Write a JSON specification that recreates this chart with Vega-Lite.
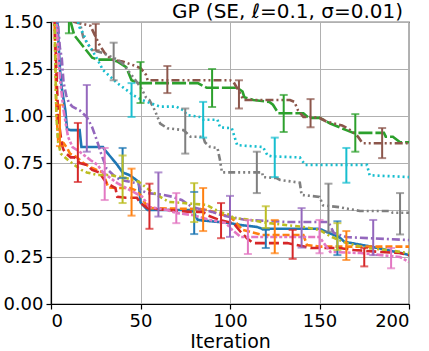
{
"$schema": "https://vega.github.io/schema/vega-lite/v6.json",
"width": 358, "height": 282,
"autosize": {"type": "none"},
"padding": {"left": 51, "top": 22, "right": 20, "bottom": 47},
"background": "white",
"config": {
 "font": "DejaVu Sans",
 "view": {"stroke": "#000", "strokeWidth": 1.2},
 "axis": {"grid": true, "gridColor": "#b0b0b0", "gridWidth": 1, "domainColor": "#000", "domainWidth": 1.2, "tickColor": "#000", "tickSize": 5, "tickWidth": 1.2, "labelColor": "#000", "labelFontSize": 18, "labelFont": "DejaVu Sans", "titleFont": "DejaVu Sans", "titleFontSize": 19, "titleFontWeight": "normal", "titleColor": "#000", "labelPadding": 3}
},
"title": {"text": "GP (SE, ℓ=0.1, σ=0.01)", "anchor": "end", "frame": "group", "fontSize": 20, "fontWeight": "normal", "font": "DejaVu Sans", "color": "#000", "offset": 4, "dy": 13, "dx": -6},
"datasets": {
"lines": [
{"method":"m1","iter":0,"value":2.5},{"method":"m1","iter":3,"value":1.6},{"method":"m1","iter":5,"value":1.25},{"method":"m1","iter":6,"value":1.15},{"method":"m1","iter":8,"value":1.03},{"method":"m1","iter":9,"value":0.93},{"method":"m1","iter":11,"value":0.925},{"method":"m1","iter":16,"value":0.925},{"method":"m1","iter":17,"value":0.835},{"method":"m1","iter":29,"value":0.835},{"method":"m1","iter":30,"value":0.82},{"method":"m1","iter":34,"value":0.775},{"method":"m1","iter":37,"value":0.74},{"method":"m1","iter":40,"value":0.7},{"method":"m1","iter":44,"value":0.685},{"method":"m1","iter":49,"value":0.65},{"method":"m1","iter":50,"value":0.54},{"method":"m1","iter":54,"value":0.5},{"method":"m1","iter":79,"value":0.5},{"method":"m1","iter":82,"value":0.447},{"method":"m1","iter":94,"value":0.436},{"method":"m1","iter":100,"value":0.43},{"method":"m1","iter":106,"value":0.42},{"method":"m1","iter":115,"value":0.41},{"method":"m1","iter":118,"value":0.4},{"method":"m1","iter":150,"value":0.4},{"method":"m1","iter":154,"value":0.383},{"method":"m1","iter":161,"value":0.356},{"method":"m1","iter":164,"value":0.33},{"method":"m1","iter":168,"value":0.324},{"method":"m1","iter":180,"value":0.303},{"method":"m1","iter":196,"value":0.27},{"method":"m1","iter":200,"value":0.26},
{"method":"m2","iter":0,"value":2.5},{"method":"m2","iter":2,"value":1.5},{"method":"m2","iter":3,"value":1.03},{"method":"m2","iter":4,"value":0.87},{"method":"m2","iter":7,"value":0.856},{"method":"m2","iter":9,"value":0.83},{"method":"m2","iter":10.6,"value":0.8},{"method":"m2","iter":14.5,"value":0.78},{"method":"m2","iter":18,"value":0.75},{"method":"m2","iter":23,"value":0.723},{"method":"m2","iter":29,"value":0.7},{"method":"m2","iter":32,"value":0.62},{"method":"m2","iter":37,"value":0.617},{"method":"m2","iter":44,"value":0.617},{"method":"m2","iter":47,"value":0.606},{"method":"m2","iter":50,"value":0.58},{"method":"m2","iter":52.5,"value":0.537},{"method":"m2","iter":55,"value":0.51},{"method":"m2","iter":83,"value":0.505},{"method":"m2","iter":87,"value":0.5},{"method":"m2","iter":100,"value":0.463},{"method":"m2","iter":102,"value":0.447},{"method":"m2","iter":107,"value":0.394},{"method":"m2","iter":118,"value":0.367},{"method":"m2","iter":141,"value":0.367},{"method":"m2","iter":143,"value":0.314},{"method":"m2","iter":150,"value":0.305},{"method":"m2","iter":200,"value":0.305},
{"method":"m3","iter":0,"value":2.5},{"method":"m3","iter":9,"value":1.7},{"method":"m3","iter":11,"value":1.5},{"method":"m3","iter":13,"value":1.43},{"method":"m3","iter":18,"value":1.37},{"method":"m3","iter":23,"value":1.31},{"method":"m3","iter":26,"value":1.3},{"method":"m3","iter":34,"value":1.3},{"method":"m3","iter":37,"value":1.29},{"method":"m3","iter":42,"value":1.26},{"method":"m3","iter":45,"value":1.19},{"method":"m3","iter":49,"value":1.175},{"method":"m3","iter":82,"value":1.175},{"method":"m3","iter":87,"value":1.15},{"method":"m3","iter":104,"value":1.15},{"method":"m3","iter":107,"value":1.13},{"method":"m3","iter":108,"value":1.1},{"method":"m3","iter":113,"value":1.085},{"method":"m3","iter":122,"value":1.075},{"method":"m3","iter":124,"value":1.06},{"method":"m3","iter":127,"value":1.015},{"method":"m3","iter":141,"value":1.015},{"method":"m3","iter":144,"value":0.99},{"method":"m3","iter":150,"value":0.99},{"method":"m3","iter":156,"value":0.96},{"method":"m3","iter":165,"value":0.925},{"method":"m3","iter":169,"value":0.91},{"method":"m3","iter":186,"value":0.91},{"method":"m3","iter":187,"value":0.89},{"method":"m3","iter":191,"value":0.89},{"method":"m3","iter":195,"value":0.86},{"method":"m3","iter":200,"value":0.86},
{"method":"m4","iter":0,"value":2.5},{"method":"m4","iter":2,"value":1.5},{"method":"m4","iter":4,"value":1.0},{"method":"m4","iter":6,"value":0.85},{"method":"m4","iter":7,"value":0.82},{"method":"m4","iter":8.5,"value":0.8},{"method":"m4","iter":11,"value":0.78},{"method":"m4","iter":13,"value":0.78},{"method":"m4","iter":16,"value":0.75},{"method":"m4","iter":20,"value":0.74},{"method":"m4","iter":23,"value":0.713},{"method":"m4","iter":27,"value":0.7},{"method":"m4","iter":31,"value":0.643},{"method":"m4","iter":36,"value":0.617},{"method":"m4","iter":37,"value":0.57},{"method":"m4","iter":42,"value":0.565},{"method":"m4","iter":48,"value":0.565},{"method":"m4","iter":50,"value":0.537},{"method":"m4","iter":54,"value":0.51},{"method":"m4","iter":65,"value":0.5},{"method":"m4","iter":78,"value":0.49},{"method":"m4","iter":85,"value":0.49},{"method":"m4","iter":87,"value":0.473},{"method":"m4","iter":94,"value":0.447},{"method":"m4","iter":102,"value":0.43},{"method":"m4","iter":106,"value":0.383},{"method":"m4","iter":109.5,"value":0.35},{"method":"m4","iter":113,"value":0.324},{"method":"m4","iter":132,"value":0.324},{"method":"m4","iter":145,"value":0.298},{"method":"m4","iter":161,"value":0.298},{"method":"m4","iter":169,"value":0.287},{"method":"m4","iter":184,"value":0.277},{"method":"m4","iter":195,"value":0.271},{"method":"m4","iter":200,"value":0.26},
{"method":"m5","iter":0,"value":2.5},{"method":"m5","iter":3,"value":1.6},{"method":"m5","iter":5,"value":1.36},{"method":"m5","iter":6,"value":1.31},{"method":"m5","iter":7,"value":1.18},{"method":"m5","iter":8.5,"value":1.11},{"method":"m5","iter":10,"value":1.07},{"method":"m5","iter":12,"value":1.05},{"method":"m5","iter":16,"value":1.03},{"method":"m5","iter":20,"value":0.995},{"method":"m5","iter":23,"value":0.94},{"method":"m5","iter":26,"value":0.86},{"method":"m5","iter":28,"value":0.8},{"method":"m5","iter":31,"value":0.72},{"method":"m5","iter":36,"value":0.675},{"method":"m5","iter":39,"value":0.66},{"method":"m5","iter":44,"value":0.65},{"method":"m5","iter":49,"value":0.64},{"method":"m5","iter":50,"value":0.605},{"method":"m5","iter":54,"value":0.59},{"method":"m5","iter":63,"value":0.58},{"method":"m5","iter":68,"value":0.57},{"method":"m5","iter":73,"value":0.553},{"method":"m5","iter":79,"value":0.515},{"method":"m5","iter":90,"value":0.49},{"method":"m5","iter":95,"value":0.473},{"method":"m5","iter":109,"value":0.447},{"method":"m5","iter":133,"value":0.436},{"method":"m5","iter":155,"value":0.436},{"method":"m5","iter":158,"value":0.378},{"method":"m5","iter":165,"value":0.356},{"method":"m5","iter":200,"value":0.34},
{"method":"m6","iter":0,"value":2.5},{"method":"m6","iter":10,"value":1.6},{"method":"m6","iter":13,"value":1.5},{"method":"m6","iter":22,"value":1.48},{"method":"m6","iter":25,"value":1.42},{"method":"m6","iter":27,"value":1.38},{"method":"m6","iter":30,"value":1.335},{"method":"m6","iter":34,"value":1.3},{"method":"m6","iter":40,"value":1.29},{"method":"m6","iter":46,"value":1.27},{"method":"m6","iter":50,"value":1.255},{"method":"m6","iter":53,"value":1.22},{"method":"m6","iter":54,"value":1.19},{"method":"m6","iter":100,"value":1.19},{"method":"m6","iter":102,"value":1.18},{"method":"m6","iter":104.5,"value":1.14},{"method":"m6","iter":107,"value":1.095},{"method":"m6","iter":107.5,"value":1.085},{"method":"m6","iter":133.5,"value":1.085},{"method":"m6","iter":136,"value":1.075},{"method":"m6","iter":138,"value":1.03},{"method":"m6","iter":141,"value":0.995},{"method":"m6","iter":145,"value":0.995},{"method":"m6","iter":150,"value":0.99},{"method":"m6","iter":154,"value":0.97},{"method":"m6","iter":162.6,"value":0.95},{"method":"m6","iter":165.4,"value":0.936},{"method":"m6","iter":168.7,"value":0.915},{"method":"m6","iter":171.5,"value":0.89},{"method":"m6","iter":174,"value":0.855},{"method":"m6","iter":200,"value":0.855},
{"method":"m7","iter":0,"value":2.5},{"method":"m7","iter":3,"value":1.5},{"method":"m7","iter":5,"value":1.2},{"method":"m7","iter":7,"value":1.03},{"method":"m7","iter":9.5,"value":0.89},{"method":"m7","iter":12,"value":0.835},{"method":"m7","iter":16,"value":0.81},{"method":"m7","iter":22,"value":0.766},{"method":"m7","iter":26,"value":0.74},{"method":"m7","iter":29,"value":0.7},{"method":"m7","iter":37,"value":0.643},{"method":"m7","iter":46,"value":0.596},{"method":"m7","iter":51,"value":0.57},{"method":"m7","iter":55,"value":0.516},{"method":"m7","iter":65,"value":0.5},{"method":"m7","iter":70,"value":0.484},{"method":"m7","iter":79,"value":0.473},{"method":"m7","iter":89,"value":0.447},{"method":"m7","iter":98,"value":0.43},{"method":"m7","iter":100,"value":0.404},{"method":"m7","iter":106,"value":0.356},{"method":"m7","iter":150,"value":0.356},{"method":"m7","iter":156,"value":0.277},{"method":"m7","iter":173,"value":0.271},{"method":"m7","iter":195,"value":0.25},{"method":"m7","iter":200,"value":0.223},
{"method":"m8","iter":0,"value":2.5},{"method":"m8","iter":12,"value":1.7},{"method":"m8","iter":16,"value":1.5},{"method":"m8","iter":18,"value":1.42},{"method":"m8","iter":23,"value":1.35},{"method":"m8","iter":29,"value":1.335},{"method":"m8","iter":37,"value":1.3},{"method":"m8","iter":40,"value":1.28},{"method":"m8","iter":44,"value":1.23},{"method":"m8","iter":50,"value":1.155},{"method":"m8","iter":53,"value":1.1},{"method":"m8","iter":55,"value":1.085},{"method":"m8","iter":58,"value":1.03},{"method":"m8","iter":61,"value":0.96},{"method":"m8","iter":65,"value":0.935},{"method":"m8","iter":74,"value":0.925},{"method":"m8","iter":78,"value":0.89},{"method":"m8","iter":85,"value":0.89},{"method":"m8","iter":86,"value":0.86},{"method":"m8","iter":89,"value":0.835},{"method":"m8","iter":93,"value":0.83},{"method":"m8","iter":94.4,"value":0.766},{"method":"m8","iter":95.5,"value":0.7},{"method":"m8","iter":118,"value":0.7},{"method":"m8","iter":118.4,"value":0.675},{"method":"m8","iter":126,"value":0.67},{"method":"m8","iter":128,"value":0.66},{"method":"m8","iter":139,"value":0.645},{"method":"m8","iter":140,"value":0.58},{"method":"m8","iter":150,"value":0.57},{"method":"m8","iter":152,"value":0.525},{"method":"m8","iter":161,"value":0.515},{"method":"m8","iter":164,"value":0.51},{"method":"m8","iter":172.6,"value":0.495},{"method":"m8","iter":189,"value":0.495},{"method":"m8","iter":191,"value":0.485},{"method":"m8","iter":200,"value":0.485},
{"method":"m9","iter":0,"value":2.5},{"method":"m9","iter":2,"value":1.5},{"method":"m9","iter":3,"value":1.0},{"method":"m9","iter":4,"value":0.86},{"method":"m9","iter":5.5,"value":0.8},{"method":"m9","iter":9.5,"value":0.766},{"method":"m9","iter":13,"value":0.74},{"method":"m9","iter":17,"value":0.713},{"method":"m9","iter":20,"value":0.7},{"method":"m9","iter":26,"value":0.686},{"method":"m9","iter":33,"value":0.686},{"method":"m9","iter":42,"value":0.67},{"method":"m9","iter":49,"value":0.65},{"method":"m9","iter":55,"value":0.606},{"method":"m9","iter":61,"value":0.57},{"method":"m9","iter":66,"value":0.543},{"method":"m9","iter":74,"value":0.537},{"method":"m9","iter":87,"value":0.527},{"method":"m9","iter":94,"value":0.49},{"method":"m9","iter":100,"value":0.475},{"method":"m9","iter":102,"value":0.457},{"method":"m9","iter":109,"value":0.45},{"method":"m9","iter":122,"value":0.43},{"method":"m9","iter":131,"value":0.42},{"method":"m9","iter":141,"value":0.41},{"method":"m9","iter":150,"value":0.394},{"method":"m9","iter":157,"value":0.356},{"method":"m9","iter":165,"value":0.324},{"method":"m9","iter":176,"value":0.298},{"method":"m9","iter":188,"value":0.287},{"method":"m9","iter":195,"value":0.277},{"method":"m9","iter":200,"value":0.271},
{"method":"m10","iter":0,"value":2.5},{"method":"m10","iter":12,"value":1.6},{"method":"m10","iter":16,"value":1.47},{"method":"m10","iter":18,"value":1.44},{"method":"m10","iter":20,"value":1.39},{"method":"m10","iter":23,"value":1.35},{"method":"m10","iter":26,"value":1.3},{"method":"m10","iter":29,"value":1.245},{"method":"m10","iter":33,"value":1.21},{"method":"m10","iter":37,"value":1.175},{"method":"m10","iter":42,"value":1.14},{"method":"m10","iter":46,"value":1.11},{"method":"m10","iter":51,"value":1.085},{"method":"m10","iter":55,"value":1.07},{"method":"m10","iter":61,"value":1.05},{"method":"m10","iter":70,"value":1.05},{"method":"m10","iter":74,"value":1.03},{"method":"m10","iter":76,"value":1.005},{"method":"m10","iter":83,"value":0.995},{"method":"m10","iter":85,"value":0.98},{"method":"m10","iter":93,"value":0.98},{"method":"m10","iter":94.4,"value":0.94},{"method":"m10","iter":101,"value":0.935},{"method":"m10","iter":104,"value":0.845},{"method":"m10","iter":118.4,"value":0.835},{"method":"m10","iter":121,"value":0.79},{"method":"m10","iter":123.5,"value":0.785},{"method":"m10","iter":139,"value":0.78},{"method":"m10","iter":142,"value":0.74},{"method":"m10","iter":176.5,"value":0.74},{"method":"m10","iter":178,"value":0.685},{"method":"m10","iter":200,"value":0.675}
],
"bars": [
{"method":"m1","iter":40,"lo":0.67,"hi":0.83},{"method":"m1","iter":80,"lo":0.372,"hi":0.596},{"method":"m1","iter":120,"lo":0.298,"hi":0.394},{"method":"m1","iter":160,"lo":0.26,"hi":0.44},
{"method":"m2","iter":5,"lo":0.84,"hi":1.06},{"method":"m2","iter":45,"lo":0.47,"hi":0.72},{"method":"m2","iter":85,"lo":0.388,"hi":0.617},{"method":"m2","iter":125,"lo":0.27,"hi":0.447},{"method":"m2","iter":165,"lo":0.234,"hi":0.388},
{"method":"m3","iter":10,"lo":1.44,"hi":1.7},{"method":"m3","iter":50,"lo":1.069,"hi":1.287},{"method":"m3","iter":90,"lo":1.048,"hi":1.25},{"method":"m3","iter":130,"lo":0.915,"hi":1.112},{"method":"m3","iter":170,"lo":0.81,"hi":1.01},
{"method":"m4","iter":15,"lo":0.649,"hi":0.963},{"method":"m4","iter":55,"lo":0.4,"hi":0.64},{"method":"m4","iter":95,"lo":0.35,"hi":0.537},{"method":"m4","iter":135,"lo":0.24,"hi":0.394},{"method":"m4","iter":175,"lo":0.2,"hi":0.298},
{"method":"m5","iter":20,"lo":0.81,"hi":1.165},{"method":"m5","iter":60,"lo":0.465,"hi":0.7},{"method":"m5","iter":100,"lo":0.357,"hi":0.575},{"method":"m5","iter":140,"lo":0.3,"hi":0.51},{"method":"m5","iter":180,"lo":0.26,"hi":0.447},
{"method":"m6","iter":25,"lo":1.35,"hi":1.49},{"method":"m6","iter":65,"lo":1.122,"hi":1.266},{"method":"m6","iter":105,"lo":1.04,"hi":1.19},{"method":"m6","iter":145,"lo":0.94,"hi":1.09},{"method":"m6","iter":185,"lo":0.776,"hi":0.936},
{"method":"m7","iter":30,"lo":0.553,"hi":0.83},{"method":"m7","iter":70,"lo":0.43,"hi":0.59},{"method":"m7","iter":110,"lo":0.266,"hi":0.447},{"method":"m7","iter":150,"lo":0.27,"hi":0.447},{"method":"m7","iter":190,"lo":0.19,"hi":0.298},
{"method":"m8","iter":35,"lo":1.19,"hi":1.39},{"method":"m8","iter":75,"lo":0.8,"hi":1.04},{"method":"m8","iter":115,"lo":0.59,"hi":0.81},{"method":"m8","iter":155,"lo":0.385,"hi":0.64},{"method":"m8","iter":195,"lo":0.37,"hi":0.59},
{"method":"m9","iter":40,"lo":0.537,"hi":0.79},{"method":"m9","iter":80,"lo":0.436,"hi":0.643},{"method":"m9","iter":120,"lo":0.404,"hi":0.52},{"method":"m9","iter":160,"lo":0.287,"hi":0.43},
{"method":"m10","iter":45,"lo":0.995,"hi":1.175},{"method":"m10","iter":85,"lo":0.885,"hi":1.075},{"method":"m10","iter":125,"lo":0.675,"hi":0.885},{"method":"m10","iter":165,"lo":0.645,"hi":0.83}
]
},
"encoding": {
 "x": {"field": "iter", "type": "quantitative", "scale": {"domain": [0, 200], "nice": false}, "axis": {"values": [0, 50, 100, 150, 200], "title": "Iteration", "titlePadding": 2}},
 "color": {"field": "method", "type": "nominal", "scale": {"domain": ["m1","m2","m3","m4","m5","m6","m7","m8","m9","m10"], "range": ["#1f77b4","#ff7f0e","#2ca02c","#d62728","#9467bd","#8c564b","#e377c2","#7f7f7f","#bcbd22","#17becf"]}, "legend": null}
},
"layer": [
 {"data": {"name": "lines"}, "mark": {"type": "line", "clip": true, "strokeWidth": 2.6},
  "encoding": {
   "y": {"field": "value", "type": "quantitative", "scale": {"domain": [0, 1.5], "nice": false}, "axis": {"values": [0, 0.25, 0.5, 0.75, 1.0, 1.25, 1.5], "format": ".2f", "title": null}},
   "strokeDash": {"field": "method", "type": "nominal", "scale": {"domain": ["m1","m2","m3","m4","m5","m6","m7","m8","m9","m10"], "range": [[1,0],[7,3],[14,3],[10,4],[8,3,2,3],[8,3,2,3,2,3],[3,2,3,2,7,2],[7,3,2,3,2,3,2,3],[5,3,2,3],[2,3]]}, "legend": null}
  }},
 {"data": {"name": "bars"}, "mark": {"type": "rule", "clip": true, "strokeWidth": 2},
  "encoding": {"y": {"field": "lo", "type": "quantitative"}, "y2": {"field": "hi"}}},
 {"data": {"name": "bars"}, "mark": {"type": "tick", "clip": true, "orient": "horizontal", "size": 8, "thickness": 2},
  "encoding": {"y": {"field": "lo", "type": "quantitative"}}},
 {"data": {"name": "bars"}, "mark": {"type": "tick", "clip": true, "orient": "horizontal", "size": 8, "thickness": 2},
  "encoding": {"y": {"field": "hi", "type": "quantitative"}}}
]
}
